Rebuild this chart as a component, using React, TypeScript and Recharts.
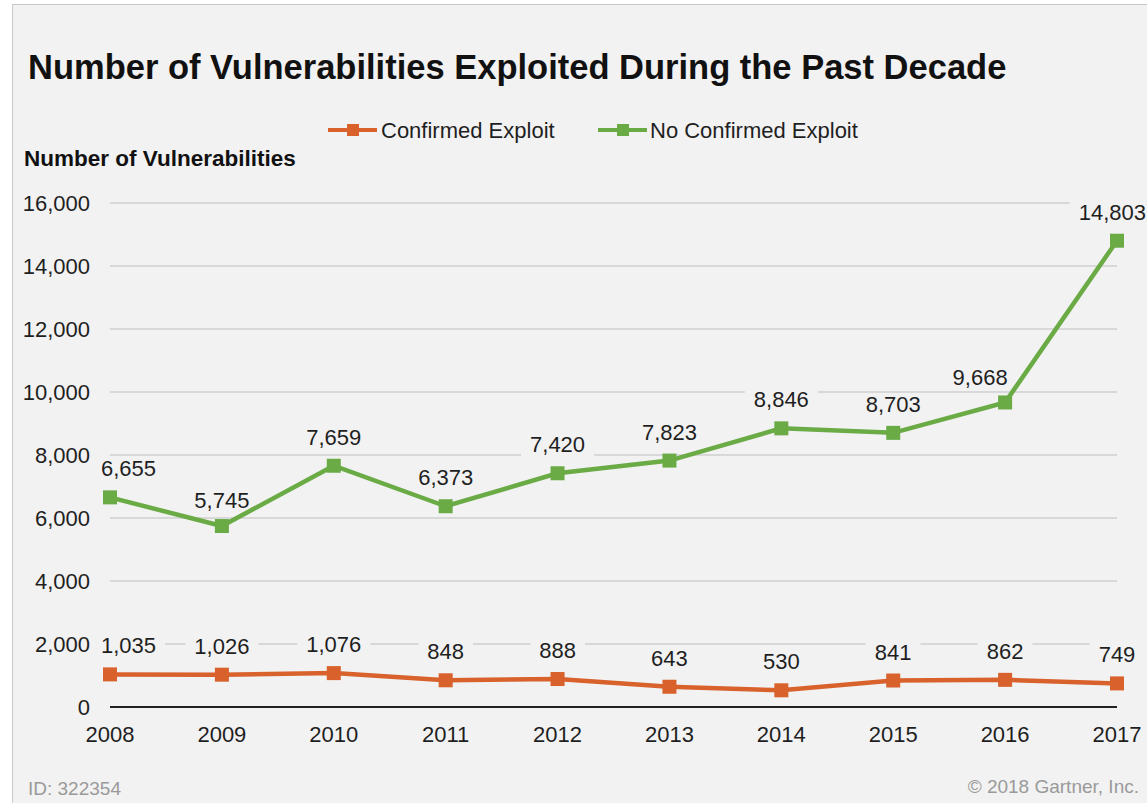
import { LineChart, Line, XAxis, YAxis, CartesianGrid, LabelList } from 'recharts';

const YEARS = ['2008', '2009', '2010', '2011', '2012', '2013', '2014', '2015', '2016', '2017'];
const CONFIRMED = [1035, 1026, 1076, 848, 888, 643, 530, 841, 862, 749];
const NO_CONFIRMED = [6655, 5745, 7659, 6373, 7420, 7823, 8846, 8703, 9668, 14803];
const Y_TICKS = [0, 2000, 4000, 6000, 8000, 10000, 12000, 14000, 16000];

const ORANGE = '#d8612c';
const GREEN = '#6aab46';
const BG = '#f2f2f2';
const FONT = '"Liberation Sans", Arial, Helvetica, sans-serif';

const W = 1147;
const H = 803;
const MARGIN = { top: 203, right: 30, bottom: 46, left: 10 };
const X_AXIS_H = 50;
const PLOT_BOTTOM = H - MARGIN.bottom - X_AXIS_H;
const Y_MAX = 16000;

const data = YEARS.map((year, i) => ({ year, confirmed: CONFIRMED[i], noConfirmed: NO_CONFIRMED[i] }));

const fmt = (v: number) => v.toLocaleString('en-US');
const gridY = (v: number) => PLOT_BOTTOM - (v / Y_MAX) * (PLOT_BOTTOM - MARGIN.top);

// rough Arial width so the label box hides the gridline behind it
const textWidth = (s: string, size: number) =>
  s.split('').reduce((w, ch) => w + (ch === ',' ? 0.278 : 0.556), 0) * size;

// labels sit on a patch of background that only blanks the gridline they cross
const makeLabel = (nudge: Record<number, [number, number]>) => (props: any) => {
  const { x, y, value, index } = props;
  if (x == null || y == null) return null;
  const text = fmt(Number(value));
  const w = textWidth(text, 22);
  const [dx, dy] = nudge[index] ?? [0, 0];
  const baseline = y - 21 + dy;
  let left = x - w / 2 + dx;
  if (index === 0) left = x - 9;
  if (index === YEARS.length - 1) left = Math.min(left, 1146 - w);
  const padL = index === 0 ? 4 : 9;
  const top = baseline - 19;
  const bottom = baseline + 6;
  const crossed = Y_TICKS.map(gridY).filter((gy) => gy > top && gy < bottom);
  return (
    <g>
      {crossed.map((gy) => (
        <rect key={gy} x={left - padL} y={gy - 2} width={w + padL + 9} height={4} fill={BG} />
      ))}
      <text x={left} y={baseline} fontSize={22} fill="#1f1f1f" fontFamily={FONT}>
        {text}
      </text>
    </g>
  );
};

// 2016 green label sits left of the steep segment in the original
const greenLabel = makeLabel({ 1: [0, 3], 8: [-25, 4] });
const orangeLabel = makeLabel({});

const squareDot = (color: string) => (props: any) => {
  const { cx, cy, index } = props;
  if (cx == null || cy == null) return <g key={index} />;
  return <rect key={index} x={cx - 7} y={cy - 7} width={14} height={14} fill={color} />;
};

const LegendIcon = ({ x, color }: { x: number; color: string }) => (
  <g>
    <line x1={x} x2={x + 49} y1={130} y2={130} stroke={color} strokeWidth={4} />
    <rect x={x + 19} y={124} width={12} height={12} fill={color} />
  </g>
);

export default function App() {
  return (
    <div style={{ position: 'absolute', left: 0, top: 0, width: W, height: H, background: '#fff', overflow: 'hidden' }}>
      <div
        style={{
          position: 'absolute',
          left: 12,
          top: 4,
          width: 1140,
          height: 805,
          background: BG,
          borderLeft: '1px solid #c9c9c9',
          borderTop: '1px solid #c9c9c9',
        }}
      />
      <div style={{ position: 'absolute', left: 0, top: 0 }}>
        <LineChart width={W} height={H} data={data} margin={MARGIN} style={{ fontFamily: FONT }}>
          <CartesianGrid vertical={false} stroke="#cfcfcf" strokeWidth={1.5} />
          <XAxis
            dataKey="year"
            height={X_AXIS_H}
            tickLine={false}
            tickSize={0}
            tickMargin={19}
            axisLine={{ stroke: '#222', strokeWidth: 2 }}
            tick={{ fill: '#1f1f1f', fontSize: 22, fontFamily: FONT }}
            interval={0}
          />
          <YAxis
            width={100}
            domain={[0, Y_MAX]}
            ticks={Y_TICKS}
            tickFormatter={fmt}
            axisLine={false}
            tickLine={false}
            tickSize={0}
            tickMargin={20}
            tick={{ fill: '#1f1f1f', fontSize: 22, fontFamily: FONT }}
          />
          <Line
            dataKey="confirmed"
            stroke={ORANGE}
            strokeWidth={4.5}
            dot={squareDot(ORANGE)}
            isAnimationActive={false}
          >
            <LabelList dataKey="confirmed" content={orangeLabel} />
          </Line>
          <Line
            dataKey="noConfirmed"
            stroke={GREEN}
            strokeWidth={4.5}
            dot={squareDot(GREEN)}
            isAnimationActive={false}
          >
            <LabelList dataKey="noConfirmed" content={greenLabel} />
          </Line>
        </LineChart>
      </div>
      <svg width={W} height={H} style={{ position: 'absolute', left: 0, top: 0, pointerEvents: 'none' }}>
        <text x={28} y={79} fontSize={34.5} fontWeight="bold" fill="#111" fontFamily={FONT}>
          Number of Vulnerabilities Exploited During the Past Decade
        </text>
        <LegendIcon x={328} color={ORANGE} />
        <text x={381} y={138} fontSize={22} fill="#1f1f1f" fontFamily={FONT}>
          Confirmed Exploit
        </text>
        <LegendIcon x={598} color={GREEN} />
        <text x={650} y={138} fontSize={22} fill="#1f1f1f" fontFamily={FONT}>
          No Confirmed Exploit
        </text>
        <text x={24} y={166} fontSize={22.5} fontWeight="bold" fill="#111" fontFamily={FONT}>
          Number of Vulnerabilities
        </text>
        <text x={28} y={795} fontSize={19} fill="#9a9a9a" fontFamily={FONT}>
          ID: 322354
        </text>
        <text x={1139} y={793} fontSize={19} fill="#9a9a9a" fontFamily={FONT} textAnchor="end">
          © 2018 Gartner, Inc.
        </text>
      </svg>
    </div>
  );
}
